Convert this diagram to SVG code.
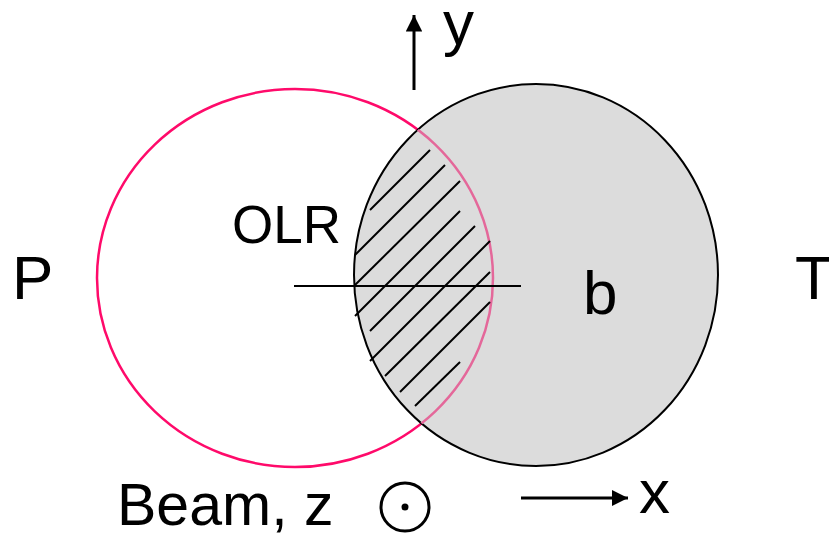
<svg xmlns="http://www.w3.org/2000/svg" width="829" height="535" viewBox="0 0 829 535">
<style>
  text { font-family: "Liberation Sans", Arial, sans-serif; fill: #000; }
  .hatch line { stroke: #000; stroke-width: 2; }
  .conn { stroke: #000; stroke-width: 3; fill: none; }
</style>
<defs>
  <marker id="ah" viewBox="0 0 10 10" refX="10" refY="5" markerWidth="5.5" markerHeight="5.5" orient="auto" markerUnits="strokeWidth">
    <path d="M0,0 L10,5 L0,10 z" fill="#000"/>
  </marker>
  <clipPath id="tclip"><ellipse cx="536" cy="275" rx="182" ry="191"/></clipPath>
</defs>
<rect width="829" height="535" fill="#fff"/>
<g id="P-nucleus">
  <ellipse cx="295" cy="278" rx="198" ry="189" fill="none" stroke="#ff0a6a" stroke-width="2.5"/>
</g>
<g id="T-nucleus">
  <ellipse cx="536" cy="275" rx="182" ry="191" fill="#dcdcdc" stroke="#000" stroke-width="2"/>
  <ellipse cx="295" cy="278" rx="198" ry="189" fill="none" stroke="#e4689a" stroke-width="2.5" clip-path="url(#tclip)"/>
</g>
<g id="overlap" class="hatch">
  <line x1="370" y1="210" x2="430" y2="150"/>
  <line x1="355" y1="255" x2="445" y2="165"/>
  <line x1="355" y1="285" x2="460" y2="181"/>
  <line x1="355" y1="316" x2="460" y2="211"/>
  <line x1="370" y1="331" x2="475" y2="226"/>
  <line x1="370" y1="361" x2="490" y2="241"/>
  <line x1="385" y1="376" x2="490" y2="272"/>
  <line x1="400" y1="392" x2="490" y2="302"/>
  <line x1="415" y1="406" x2="460" y2="362"/>
</g>
<g id="connectors">
  <line x1="294" y1="286" x2="521" y2="286" stroke="#000" stroke-width="2"/>
  <line class="conn" x1="414" y1="90" x2="414" y2="15" marker-end="url(#ah)"/>
  <line class="conn" x1="521" y1="498" x2="628" y2="498" marker-end="url(#ah)"/>
</g>
<g id="labels">
  <text x="12" y="299" font-size="62">P</text>
  <text x="795" y="299" font-size="62">T</text>
  <text x="232" y="243" font-size="53">OLR</text>
  <text x="583" y="314" font-size="62">b</text>
  <text x="443" y="44" font-size="62">y</text>
  <text x="639" y="513" font-size="62">x</text>
  <text x="117" y="525" font-size="59">Beam, z</text>
</g>
<g id="beam-symbol">
  <circle cx="405" cy="507" r="24" fill="none" stroke="#000" stroke-width="3"/>
  <circle cx="405" cy="507" r="3.5" fill="#000"/>
</g>
</svg>
